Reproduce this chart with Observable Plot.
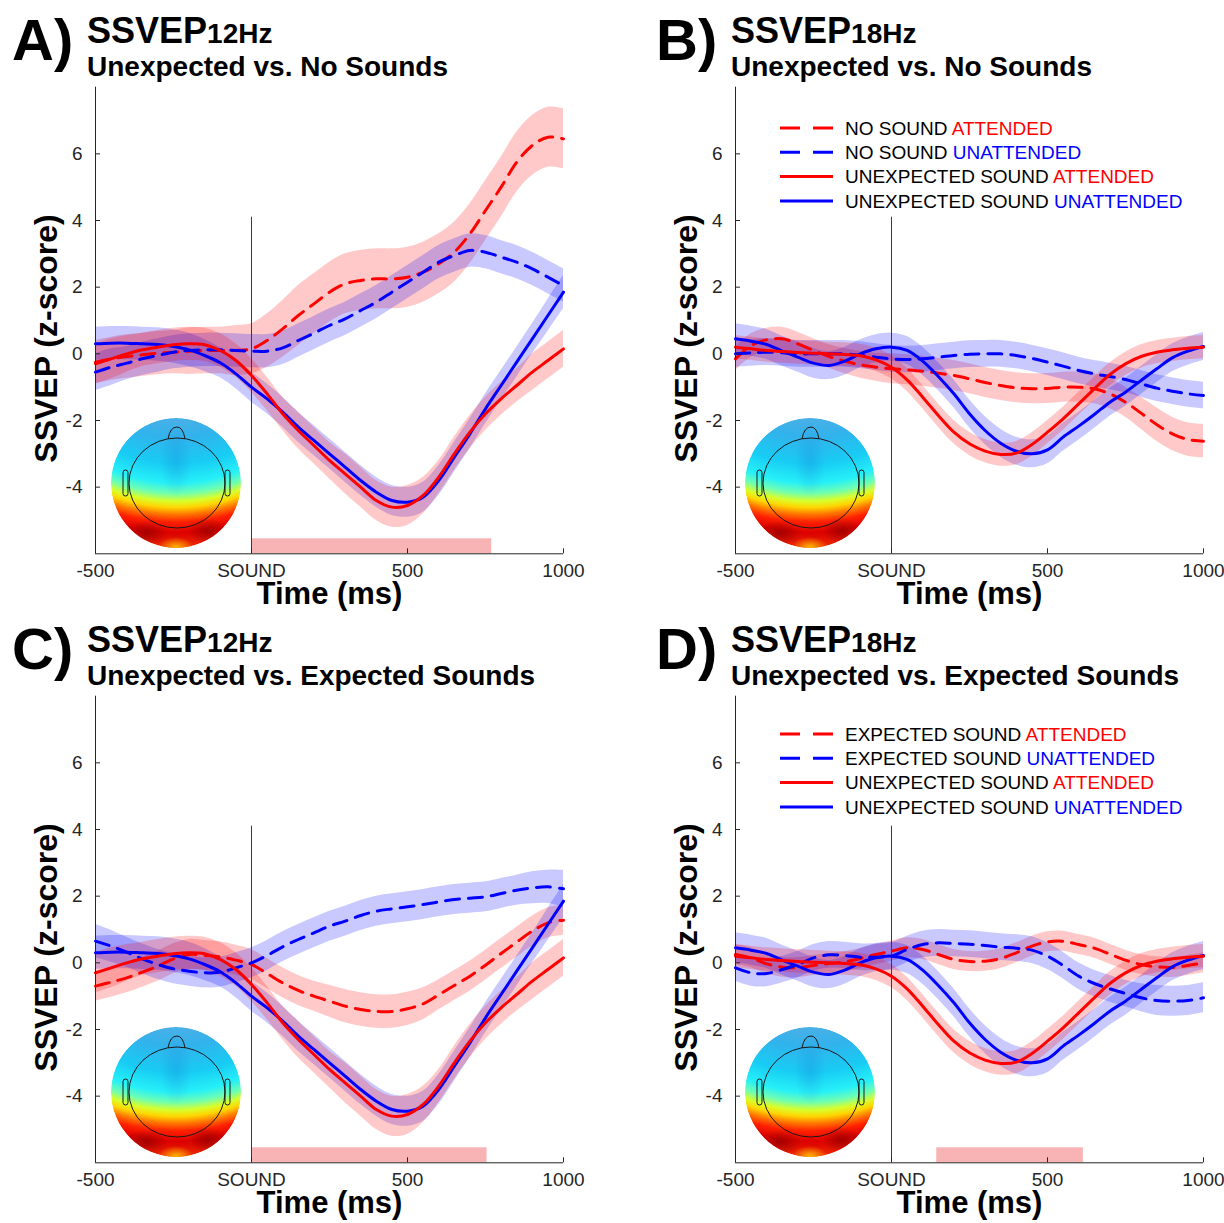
<!DOCTYPE html>
<html><head><meta charset="utf-8">
<script src="https://cdn.jsdelivr.net/npm/d3@7"></script>
<script src="https://cdn.jsdelivr.net/npm/@observablehq/plot@0.6"></script>
<style>
body{margin:0;background:#fff;}
#fig{position:relative;width:1224px;height:1223px;background:#fff;overflow:hidden;font-family:"Liberation Sans",Arial,Helvetica,sans-serif;}
.panel{position:absolute;width:610px;height:535px;}
.panel svg{max-width:none !important;}
#overlay{position:absolute;left:0;top:0;pointer-events:none;}
</style></head><body><div id="fig"></div>
<script>
// ---------- DATA ----------
const T = [-500,-450,-400,-350,-300,-250,-200,-150,-100,-50,0,50,100,150,200,250,300,350,400,450,500,550,600,650,700,750,800,850,900,950,1000];
const X_TICKS = [-500, 0, 500, 1000];
const X_TICK_LABELS = ["-500", "SOUND", "500", "1000"];
const Y_TICKS = [-4, -2, 0, 2, 4, 6];

// 12 Hz
const ssvep12_unexp_att = [-0.30,-0.15,0.00,0.12,0.20,0.27,0.30,0.27,0.10,-0.20,-0.65,-1.20,-1.80,-2.30,-2.75,-3.20,-3.60,-4.00,-4.40,-4.60,-4.55,-4.25,-3.70,-3.00,-2.35,-1.80,-1.35,-0.95,-0.55,-0.20,0.15];
const ssvep12_unexp_att_ci = [0.60,0.60,0.55,0.50,0.50,0.50,0.50,0.50,0.50,0.50,0.50,0.50,0.50,0.55,0.55,0.55,0.60,0.60,0.60,0.60,0.60,0.55,0.50,0.50,0.50,0.50,0.50,0.50,0.55,0.55,0.55];
const ssvep12_unexp_unatt = [0.30,0.32,0.32,0.30,0.28,0.22,0.12,-0.05,-0.27,-0.60,-1.00,-1.35,-1.75,-2.20,-2.60,-3.00,-3.40,-3.80,-4.15,-4.40,-4.45,-4.30,-3.80,-3.10,-2.40,-1.65,-0.95,-0.25,0.45,1.15,1.85];
const ssvep12_unexp_unatt_ci = [0.50,0.50,0.50,0.50,0.50,0.50,0.50,0.48,0.45,0.45,0.45,0.45,0.45,0.45,0.45,0.45,0.45,0.45,0.45,0.45,0.45,0.45,0.45,0.45,0.45,0.45,0.45,0.45,0.45,0.48,0.50];
const ssvep12_nosound_att = [-0.25,-0.15,-0.08,-0.03,0.02,0.05,0.08,0.10,0.10,0.10,0.15,0.40,0.75,1.15,1.50,1.85,2.10,2.20,2.25,2.25,2.30,2.45,2.70,3.05,3.60,4.30,5.00,5.75,6.25,6.50,6.45];
const ssvep12_nosound_att_ci = [0.65,0.65,0.65,0.65,0.65,0.65,0.70,0.70,0.70,0.75,0.75,0.80,0.85,0.90,0.90,0.90,0.90,0.90,0.90,0.90,0.90,0.90,0.90,0.90,0.90,0.90,0.90,0.90,0.90,0.90,0.90];
const ssvep12_nosound_unatt = [-0.55,-0.40,-0.28,-0.15,-0.05,0.05,0.10,0.12,0.12,0.10,0.08,0.08,0.18,0.40,0.62,0.85,1.05,1.30,1.55,1.85,2.15,2.45,2.75,2.95,3.10,3.05,2.90,2.75,2.55,2.30,2.05];
const ssvep12_nosound_unatt_ci = [0.55,0.55,0.50,0.50,0.50,0.50,0.50,0.50,0.50,0.50,0.50,0.50,0.50,0.50,0.50,0.50,0.50,0.50,0.50,0.50,0.50,0.50,0.50,0.50,0.50,0.50,0.50,0.50,0.50,0.50,0.50];
const ssvep12_expected_att = [-0.70,-0.58,-0.45,-0.28,-0.10,0.12,0.25,0.22,0.18,0.08,-0.05,-0.32,-0.60,-0.83,-1.00,-1.15,-1.30,-1.40,-1.46,-1.46,-1.38,-1.23,-0.96,-0.68,-0.40,-0.07,0.28,0.62,0.95,1.20,1.28];
const ssvep12_expected_att_ci = [0.45,0.45,0.45,0.45,0.45,0.45,0.45,0.45,0.45,0.45,0.45,0.45,0.45,0.45,0.45,0.48,0.50,0.50,0.50,0.50,0.50,0.48,0.45,0.45,0.45,0.45,0.45,0.45,0.45,0.45,0.45];
const ssvep12_expected_unatt = [0.65,0.50,0.32,0.12,-0.05,-0.18,-0.25,-0.30,-0.28,-0.15,0.00,0.22,0.48,0.70,0.90,1.10,1.25,1.42,1.55,1.62,1.68,1.75,1.83,1.90,1.94,1.98,2.08,2.18,2.25,2.28,2.22];
const ssvep12_expected_unatt_ci = [0.50,0.48,0.45,0.45,0.45,0.45,0.45,0.45,0.45,0.45,0.45,0.45,0.45,0.45,0.45,0.45,0.45,0.45,0.45,0.45,0.45,0.45,0.45,0.45,0.45,0.45,0.45,0.45,0.48,0.50,0.55];

// 18 Hz
const ssvep18_unexp_att = [0.20,0.15,0.10,0.07,0.04,0.02,0.00,-0.02,-0.06,-0.18,-0.40,-0.78,-1.30,-1.85,-2.35,-2.70,-2.92,-3.02,-2.98,-2.72,-2.35,-1.95,-1.50,-1.05,-0.62,-0.30,-0.08,0.05,0.12,0.17,0.20];
const ssvep18_unexp_att_ci = [0.35,0.35,0.35,0.35,0.35,0.35,0.35,0.35,0.35,0.35,0.35,0.35,0.35,0.35,0.35,0.35,0.35,0.35,0.35,0.35,0.35,0.35,0.35,0.35,0.35,0.35,0.35,0.35,0.35,0.35,0.35];
const ssvep18_unexp_unatt = [0.45,0.38,0.28,0.08,-0.10,-0.28,-0.35,-0.22,0.00,0.15,0.20,0.10,-0.22,-0.68,-1.20,-1.80,-2.30,-2.68,-2.92,-3.00,-2.88,-2.50,-2.17,-1.82,-1.45,-1.15,-0.80,-0.45,-0.12,0.08,0.22];
const ssvep18_unexp_unatt_ci = [0.45,0.45,0.45,0.45,0.45,0.45,0.42,0.42,0.42,0.42,0.42,0.42,0.42,0.42,0.42,0.42,0.42,0.42,0.42,0.42,0.42,0.42,0.42,0.42,0.42,0.42,0.42,0.42,0.42,0.42,0.42];
const ssvep18_nosound_att = [-0.15,0.25,0.42,0.45,0.30,0.10,-0.08,-0.22,-0.33,-0.40,-0.45,-0.48,-0.52,-0.58,-0.65,-0.75,-0.86,-0.95,-1.02,-1.05,-1.04,-1.00,-1.00,-1.05,-1.20,-1.45,-1.78,-2.12,-2.40,-2.57,-2.62];
const ssvep18_nosound_att_ci = [0.35,0.35,0.35,0.35,0.35,0.35,0.35,0.38,0.40,0.42,0.45,0.45,0.45,0.45,0.45,0.45,0.45,0.45,0.45,0.45,0.45,0.45,0.45,0.45,0.45,0.45,0.48,0.50,0.50,0.50,0.50];
const ssvep18_nosound_unatt = [0.00,0.03,0.05,0.03,0.00,0.00,0.00,0.00,-0.04,-0.10,-0.15,-0.17,-0.15,-0.10,-0.05,-0.01,0.00,0.00,-0.05,-0.14,-0.25,-0.37,-0.50,-0.60,-0.68,-0.77,-0.90,-1.03,-1.12,-1.20,-1.25];
const ssvep18_nosound_unatt_ci = [0.40,0.40,0.40,0.40,0.40,0.40,0.40,0.40,0.40,0.40,0.40,0.40,0.40,0.40,0.40,0.40,0.40,0.40,0.40,0.40,0.40,0.40,0.40,0.40,0.40,0.40,0.40,0.40,0.40,0.40,0.40];
const ssvep18_expected_att = [0.25,0.15,-0.03,-0.13,-0.14,-0.08,-0.02,0.03,0.13,0.25,0.35,0.45,0.40,0.25,0.10,0.04,0.05,0.13,0.30,0.50,0.63,0.65,0.55,0.44,0.26,0.08,-0.05,-0.12,-0.14,-0.08,0.00];
const ssvep18_expected_att_ci = [0.30,0.30,0.30,0.30,0.30,0.30,0.30,0.30,0.30,0.30,0.30,0.30,0.30,0.30,0.30,0.30,0.30,0.30,0.30,0.30,0.30,0.30,0.30,0.30,0.30,0.30,0.30,0.30,0.30,0.30,0.30];
const ssvep18_expected_unatt = [-0.15,-0.30,-0.32,-0.20,-0.05,0.15,0.24,0.22,0.17,0.17,0.20,0.40,0.55,0.60,0.58,0.56,0.52,0.47,0.44,0.38,0.20,-0.08,-0.40,-0.62,-0.78,-0.92,-1.05,-1.13,-1.15,-1.13,-1.05];
const ssvep18_expected_unatt_ci = [0.40,0.40,0.40,0.40,0.40,0.40,0.40,0.40,0.40,0.40,0.40,0.40,0.40,0.40,0.40,0.40,0.40,0.40,0.40,0.40,0.40,0.40,0.40,0.40,0.40,0.40,0.42,0.45,0.45,0.45,0.45];

// significance windows (ms)
const sigA = [0, 770];
const sigC = [0, 755];
const sigD = [145, 615];

// legend rows: [black part, coloured part, colour key, dashed]
const legendB = [["NO SOUND ", "ATTENDED", "red", true], ["NO SOUND ", "UNATTENDED", "blue", true], ["UNEXPECTED SOUND ", "ATTENDED", "red", false], ["UNEXPECTED SOUND ", "UNATTENDED", "blue", false]];
const legendD = [["EXPECTED SOUND ", "ATTENDED", "red", true], ["EXPECTED SOUND ", "UNATTENDED", "blue", true], ["UNEXPECTED SOUND ", "ATTENDED", "red", false], ["UNEXPECTED SOUND ", "UNATTENDED", "blue", false]];

// ---------- STYLE ----------
const RED = "#ff0000", BLUE = "#0000ff", AXIS = "#262626";
const COLORS = {red: RED, blue: BLUE};
const FONT = '"Liberation Sans", Arial, Helvetica, sans-serif';
const Y_DOMAIN = [-6, 8];

const panels = [
  {letter: "A", freq: "12Hz", sub: "Unexpected vs. No Sounds", ox: 0, oy: 0, sig: sigA, legend: null,
   series: [
     {v: ssvep12_nosound_att, ci: ssvep12_nosound_att_ci, color: RED, dashed: true},
     {v: ssvep12_nosound_unatt, ci: ssvep12_nosound_unatt_ci, color: BLUE, dashed: true},
     {v: ssvep12_unexp_unatt, ci: ssvep12_unexp_unatt_ci, color: BLUE, dashed: false},
     {v: ssvep12_unexp_att, ci: ssvep12_unexp_att_ci, color: RED, dashed: false}]},
  {letter: "B", freq: "18Hz", sub: "Unexpected vs. No Sounds", ox: 640, oy: 0, sig: null, legend: legendB, legendTop: 128,
   series: [
     {v: ssvep18_nosound_att, ci: ssvep18_nosound_att_ci, color: RED, dashed: true},
     {v: ssvep18_nosound_unatt, ci: ssvep18_nosound_unatt_ci, color: BLUE, dashed: true},
     {v: ssvep18_unexp_unatt, ci: ssvep18_unexp_unatt_ci, color: BLUE, dashed: false},
     {v: ssvep18_unexp_att, ci: ssvep18_unexp_att_ci, color: RED, dashed: false}]},
  {letter: "C", freq: "12Hz", sub: "Unexpected vs. Expected Sounds", ox: 0, oy: 609, sig: sigC, legend: null,
   series: [
     {v: ssvep12_expected_att, ci: ssvep12_expected_att_ci, color: RED, dashed: true},
     {v: ssvep12_expected_unatt, ci: ssvep12_expected_unatt_ci, color: BLUE, dashed: true},
     {v: ssvep12_unexp_unatt, ci: ssvep12_unexp_unatt_ci, color: BLUE, dashed: false},
     {v: ssvep12_unexp_att, ci: ssvep12_unexp_att_ci, color: RED, dashed: false}]},
  {letter: "D", freq: "18Hz", sub: "Unexpected vs. Expected Sounds", ox: 640, oy: 609, sig: sigD, legend: legendD, legendTop: 125,
   series: [
     {v: ssvep18_expected_att, ci: ssvep18_expected_att_ci, color: RED, dashed: true},
     {v: ssvep18_expected_unatt, ci: ssvep18_expected_unatt_ci, color: BLUE, dashed: true},
     {v: ssvep18_unexp_unatt, ci: ssvep18_unexp_unatt_ci, color: BLUE, dashed: false},
     {v: ssvep18_unexp_att, ci: ssvep18_unexp_att_ci, color: RED, dashed: false}]}
];

const fig = document.getElementById("fig");

function rowsOf(s) {
  return T.map((t, i) => ({t, v: s.v[i], lo: s.v[i] - s.ci[i], hi: s.v[i] + s.ci[i]}));
}

for (const p of panels) {
  const marks = [];
  for (const s of p.series) {
    marks.push(Plot.areaY(rowsOf(s), {x: "t", y1: "lo", y2: "hi", fill: s.color, fillOpacity: 0.21, curve: "catmull-rom"}));
  }
  if (p.sig) {
    marks.push(Plot.rect([p.sig], {x1: d => d[0], x2: d => d[1], y1: -6, y2: -5.55, fill: "#f8b3b5"}));
  }
  marks.push(Plot.ruleX([0], {y1: -6, y2: 4.1, stroke: "#3a3a3a", strokeWidth: 1}));
  for (const s of p.series) {
    const o = {x: "t", y: "v", stroke: s.color, strokeWidth: 3, curve: "catmull-rom"};
    if (s.dashed) o.strokeDasharray = "14,9";
    marks.push(Plot.lineY(rowsOf(s), o));
  }
  // axes
  marks.push(Plot.ruleX([-500], {y1: -6, y2: 8, stroke: AXIS, strokeWidth: 1}));
  marks.push(Plot.ruleY([-6], {stroke: AXIS, strokeWidth: 1}));
  marks.push(Plot.ruleY(Y_TICKS, {x1: -500, x2: -484, stroke: AXIS}));
  marks.push(Plot.ruleX(X_TICKS, {y1: -6, y2: -5.85, stroke: AXIS}));
  marks.push(Plot.axisX(X_TICKS, {tickSize: 0, tickPadding: 10, fontSize: 19,
    tickFormat: d => X_TICK_LABELS[X_TICKS.indexOf(d)], label: null}));
  marks.push(Plot.axisY(Y_TICKS, {tickSize: 0, tickPadding: 13, fontSize: 19, tickFormat: d => String(d), label: null}));
  marks.push(Plot.text(["Time (ms)"], {text: d => d, frameAnchor: "bottom", lineAnchor: "middle", textAnchor: "middle",
    dy: 40, fontSize: 31, fontWeight: "bold", fill: "#000"}));
  marks.push(Plot.text(["SSVEP (z-score)"], {text: d => d, frameAnchor: "left", lineAnchor: "middle", textAnchor: "middle",
    rotate: -90, dx: -49, dy: 18, fontSize: 32, fontWeight: "bold", fill: "#000"}));

  const chart = Plot.plot({
    width: 610, height: 535,
    marginLeft: 95, marginRight: 47, marginTop: 6.7, marginBottom: 61.7,
    x: {domain: [-500, 1000]},
    y: {domain: Y_DOMAIN},
    style: {fontFamily: FONT, fontSize: "19px", color: AXIS, background: "transparent", overflow: "visible", maxWidth: "none"},
    marks
  });
  const div = document.createElement("div");
  div.className = "panel";
  div.style.left = p.ox + "px";
  div.style.top = (p.oy + 80) + "px";
  div.appendChild(chart);
  fig.appendChild(div);
}

// ---------- OVERLAY: titles, legends, scalp maps ----------
const ov = d3.select(fig).append("svg").attr("id", "overlay")
  .attr("width", 1224).attr("height", 1223).style("font-family", FONT);
const defs = ov.append("defs");

function fade(id, color, op) {
  const g = defs.append("radialGradient").attr("id", id);
  g.append("stop").attr("offset", "0%").attr("stop-color", color).attr("stop-opacity", op);
  g.append("stop").attr("offset", "100%").attr("stop-color", color).attr("stop-opacity", 0);
}
fade("fBlue", "#1a80d8", 0.3);
fade("fDark", "#9a0000", 0.85);
fade("fGlow", "#ffc400", 0.9);

function topo(cx, cy, id) {
  const R = 65;
  const grad = defs.append("radialGradient").attr("id", "tg" + id).attr("gradientUnits", "userSpaceOnUse")
    .attr("cx", cx).attr("cy", cy - R - 96).attr("r", 230);
  const stops = [[0.417, "#4ab0e6"], [0.50, "#32b2ec"], [0.615, "#18ccf4"], [0.70, "#26f0f8"], [0.745, "#70ffb0"],
    [0.779, "#d8ff2c"], [0.807, "#ffd400"], [0.836, "#ff7800"], [0.87, "#ff2000"], [0.915, "#dc0000"], [0.983, "#ee2a00"]];
  for (const [o, c] of stops) grad.append("stop").attr("offset", o).attr("stop-color", c);
  defs.append("clipPath").attr("id", "tc" + id).append("circle").attr("cx", cx).attr("cy", cy).attr("r", R);
  const g = ov.append("g");
  const gg = g.append("g").attr("clip-path", `url(#tc${id})`);
  gg.append("circle").attr("cx", cx).attr("cy", cy).attr("r", R).attr("fill", `url(#tg${id})`);
  gg.append("ellipse").attr("cx", cx).attr("cy", cy - 22).attr("rx", 16).attr("ry", 36).attr("fill", "url(#fBlue)");
  gg.append("ellipse").attr("cx", cx - 30).attr("cy", cy + 50).attr("rx", 22).attr("ry", 13).attr("fill", "url(#fDark)");
  gg.append("ellipse").attr("cx", cx + 32).attr("cy", cy + 48).attr("rx", 20).attr("ry", 13).attr("fill", "url(#fDark)");
  gg.append("ellipse").attr("cx", cx).attr("cy", cy + 64).attr("rx", 18).attr("ry", 10).attr("fill", "url(#fGlow)");
  const st = "#1a1a1a";
  g.append("ellipse").attr("cx", cx + 1).attr("cy", cy).attr("rx", 48).attr("ry", 45)
    .attr("fill", "none").attr("stroke", st).attr("stroke-width", 1);
  g.append("path").attr("d", `M${cx - 8},${cy - 44} Q${cx - 6},${cy - 56} ${cx + 1},${cy - 56} Q${cx + 7},${cy - 56} ${cx + 9},${cy - 44}`)
    .attr("fill", "none").attr("stroke", st).attr("stroke-width", 1);
  g.append("rect").attr("x", cx - 53).attr("y", cy - 13).attr("width", 5).attr("height", 26).attr("rx", 2.5)
    .attr("fill", "none").attr("stroke", st).attr("stroke-width", 1);
  g.append("rect").attr("x", cx + 49).attr("y", cy - 13).attr("width", 5).attr("height", 26).attr("rx", 2.5)
    .attr("fill", "none").attr("stroke", st).attr("stroke-width", 1);
}

panels.forEach((p, k) => {
  const tx = p.ox + (p.ox ? 4 : 0);
  ov.append("text").attr("x", tx + 12).attr("y", p.oy + 60).attr("font-size", 58).attr("font-weight", "bold")
    .attr("fill", "#000").text(p.letter + ")");
  const t1 = ov.append("text").attr("x", tx + 87).attr("y", p.oy + 43).attr("font-weight", "bold").attr("fill", "#000");
  t1.append("tspan").attr("font-size", 36).text("SSVEP");
  t1.append("tspan").attr("font-size", 28).text(p.freq);
  ov.append("text").attr("x", tx + 87).attr("y", p.oy + 76).attr("font-size", 28).attr("font-weight", "bold")
    .attr("fill", "#000").text(p.sub);

  topo(p.ox + (p.ox ? 170 : 176), p.oy + 483, k);

  if (p.legend) {
    p.legend.forEach((row, i) => {
      const col = COLORS[row[2]];
      const y = p.oy + p.legendTop + i * 24.3;
      const ln = ov.append("line").attr("x1", p.ox + 140).attr("x2", p.ox + 193).attr("y1", y).attr("y2", y)
        .attr("stroke", col).attr("stroke-width", 3);
      if (row[3]) ln.attr("stroke-dasharray", "20,13");
      const t = ov.append("text").attr("x", p.ox + 205).attr("y", y + 6.8).attr("font-size", 19).attr("fill", "#000");
      t.append("tspan").text(row[0]);
      t.append("tspan").attr("fill", col).text(row[1]);
    });
  }
});
</script></body></html>
